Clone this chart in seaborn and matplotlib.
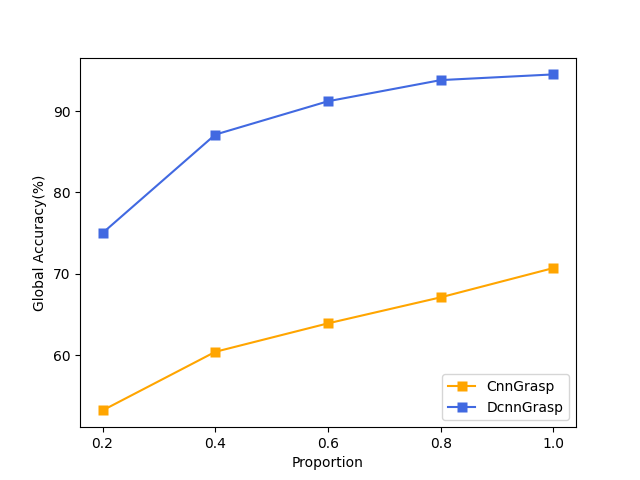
import matplotlib
matplotlib.use("Agg")
import matplotlib.pyplot as plt
import seaborn as sns
import pandas as pd

proportion = [0.2, 0.4, 0.6, 0.8, 1.0]
cnn_grasp = [53.2, 60.4, 63.9, 67.1, 70.7]
dcnn_grasp = [75.0, 87.1, 91.2, 93.8, 94.5]

df = pd.DataFrame({
    "Proportion": proportion * 2,
    "Accuracy": cnn_grasp + dcnn_grasp,
    "Model": ["CnnGrasp"] * 5 + ["DcnnGrasp"] * 5,
})

fig, ax = plt.subplots(figsize=(6.4, 4.8), dpi=100)
sns.lineplot(data=df, x="Proportion", y="Accuracy", hue="Model",
             palette={"CnnGrasp": "orange", "DcnnGrasp": "royalblue"},
             marker="s", markeredgecolor="none", markersize=7, ax=ax)
ax.set_xticks(proportion)
ax.set_xlabel("Proportion")
ax.set_ylabel("Global Accuracy(%)")
ax.legend(loc="lower right", title=None)
fig.savefig("out.png", dpi=100)
